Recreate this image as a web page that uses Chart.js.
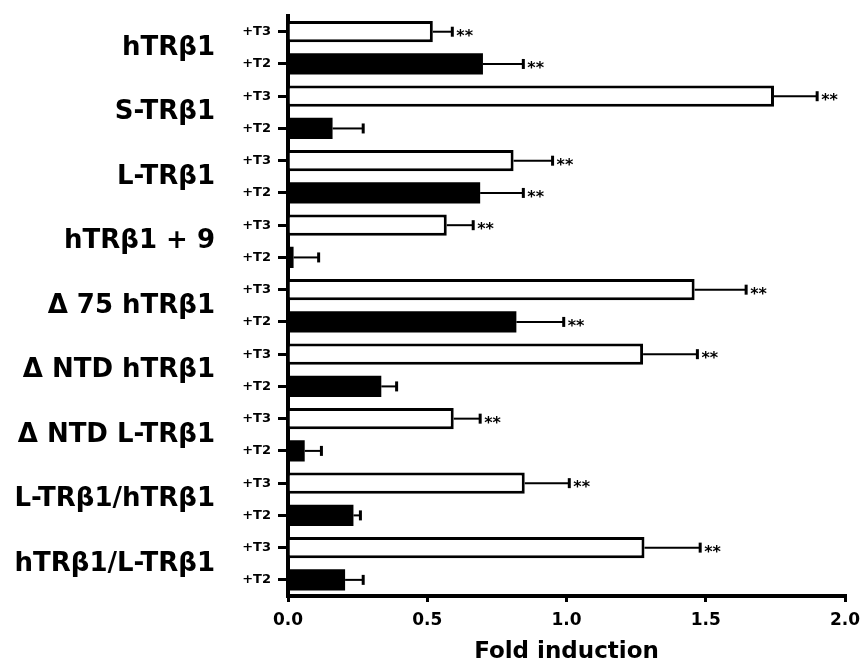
<!DOCTYPE html>
<html>
<head>
<meta charset="utf-8">
<script src="https://cdn.jsdelivr.net/npm/chart.js@4"></script>
<style>
  body { margin: 0; background: #fff; }
  #wrap { width: 862px; height: 662px; position: relative; }
</style>
</head>
<body>
<div id="wrap"><canvas id="foldChart"></canvas></div>
<script>
// constructs, two bars each (+T3 then +T2)
var groups = ["hTR\u03b21", "S-TR\u03b21", "L-TR\u03b21", "hTR\u03b21 + 9", "\u0394 75 hTR\u03b21",
  "\u0394 NTD hTR\u03b21", "\u0394 NTD L-TR\u03b21", "L-TR\u03b21/hTR\u03b21", "hTR\u03b21/L-TR\u03b21"];
var rowLabels = ["+T3","+T2","+T3","+T2","+T3","+T2","+T3","+T2","+T3","+T2",
  "+T3","+T2","+T3","+T2","+T3","+T2","+T3","+T2"];
var foldValues = [0.52, 0.70, 1.745, 0.16, 0.81, 0.69, 0.57, 0.02, 1.46, 0.82,
  1.275, 0.335, 0.595, 0.06, 0.85, 0.235, 1.28, 0.205];
var foldErrors = [0.07, 0.145, 0.155, 0.11, 0.14, 0.155, 0.095, 0.09, 0.185, 0.17,
  0.195, 0.055, 0.095, 0.06, 0.16, 0.025, 0.2, 0.065];
var stars = ["**","**","**","","**","**","**","","**","**",
  "**","","**","","**","","**",""];
var xTicks = [0, 0.5, 1.0, 1.5, 2.0];

var fontName = "'DejaVu Sans', sans-serif";

// +T3 open bars with outline, +T2 solid black
var fillColors = rowLabels.map(function(l){ return l == "+T3" ? "#ffffff" : "#000000"; });
var borderWidths = rowLabels.map(function(l){ return l == "+T3" ? 3 : 0; });

// draws the right-hand error bars and the ** marks
var errorBarPlugin = {
  id: "errorBars",
  afterDatasetsDraw: function(chart){
    var ctx = chart.ctx;
    var xs = chart.scales.x;
    var meta = chart.getDatasetMeta(0);
    ctx.save();
    ctx.strokeStyle = "#000";
    ctx.fillStyle = "#000";
    for (var i = 0; i < foldValues.length; i++) {
      var bar = meta.data[i];
      var y = bar.y;
      var x0 = xs.getPixelForValue(foldValues[i]);
      var x1 = xs.getPixelForValue(foldValues[i] + foldErrors[i]);
      ctx.lineWidth = 2;
      ctx.beginPath();
      ctx.moveTo(x0, y);
      ctx.lineTo(x1, y);
      ctx.stroke();
      ctx.lineWidth = 3;
      ctx.beginPath();
      ctx.moveTo(x1, y - 5);
      ctx.lineTo(x1, y + 5);
      ctx.stroke();
      if (stars[i]) {
        ctx.font = "bold 16px " + fontName;
        ctx.textAlign = "left";
        ctx.textBaseline = "middle";
        ctx.fillText(stars[i], x1 + 4, y + 5);
      }
    }
    ctx.restore();
  }
};

new Chart(document.getElementById("foldChart"), {
  type: "bar",
  data: {
    labels: rowLabels,
    datasets: [{
      data: foldValues,
      backgroundColor: fillColors,
      borderColor: "#000",
      borderWidth: borderWidths,
      barPercentage: 0.66,
      categoryPercentage: 1.0
    }]
  },
  plugins: [errorBarPlugin],
  options: {
    indexAxis: "y",
    responsive: true,
    maintainAspectRatio: false,
    animation: false,
    layout: { padding: { left: 0, right: 0, top: 0, bottom: 0 } },
    plugins: { legend: { display: false }, tooltip: { enabled: false } },
    scales: {
      x: {
        type: "linear",
        min: 0,
        max: 2,
        afterBuildTicks: function(axis){ axis.ticks = xTicks.map(function(v){ return { value: v }; }); },
        afterFit: function(axis){ axis.height = 66; axis.paddingRight = 17; },
        grid: { display: true, drawOnChartArea: false, tickLength: 6, color: "#000", lineWidth: 3 },
        border: { display: true, color: "#000", width: 4 },
        ticks: {
          color: "#000",
          font: { family: fontName, size: 17, weight: "bold" },
          padding: 8,
          callback: function(v){ return Number(v).toFixed(1); }
        },
        title: {
          display: true,
          text: "Fold induction",
          color: "#000",
          font: { family: fontName, size: 23, weight: "bold", lineHeight: 0.85 },
          padding: { top: 9, bottom: 0 }
        }
      },
      y: {
        type: "category",
        position: "left",
        weight: 0,
        afterFit: function(axis){ axis.width = 65; },
        grid: { display: true, offset: false, drawOnChartArea: false, tickLength: 10, color: "#000", lineWidth: 3 },
        border: { display: true, color: "#000", width: 4 },
        ticks: { color: "#000", font: { family: fontName, size: 13, weight: "bold" }, padding: 7 }
      },
      groupAxis: {
        type: "category",
        labels: groups,
        position: "left",
        weight: 1,
        offset: true,
        afterFit: function(axis){ axis.width = 223; },
        grid: { display: false },
        border: { display: false },
        ticks: { color: "#000", font: { family: fontName, size: 26, weight: "bold" }, padding: 0 }
      }
    }
  }
});
</script>
</body>
</html>
